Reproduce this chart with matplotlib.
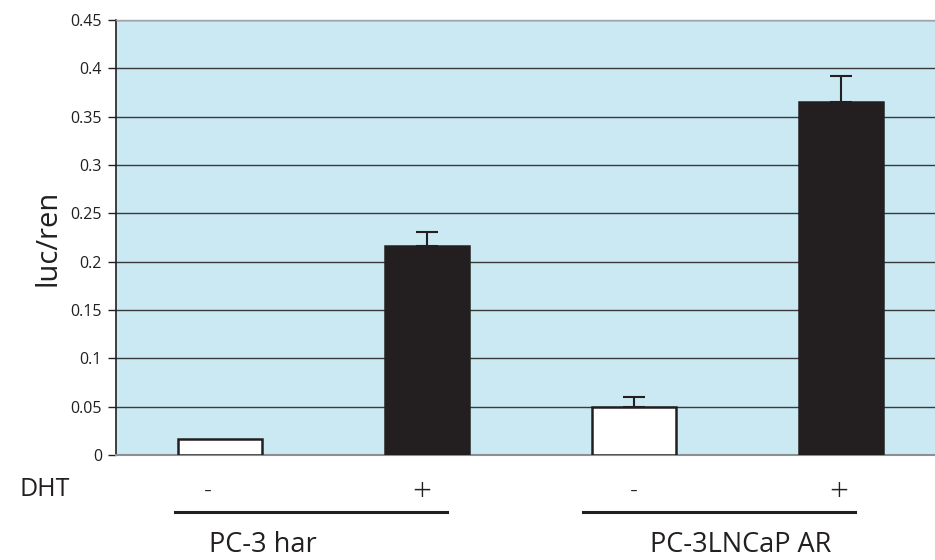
import matplotlib
matplotlib.use("Agg")
import matplotlib.pyplot as plt
import matplotlib.transforms as mtransforms

plt.rcParams['font.family'] = ['Open Sans', 'DejaVu Sans']

dht = ["-", "+", "-", "+"]
values = [0.017, 0.216, 0.050, 0.365]
errors = [0.0, 0.015, 0.010, 0.027]
bar_colors = ["white", "#231f20", "white", "#231f20"]
groups = ["PC-3 har", "PC-3LNCaP AR"]
yticks = [0, 0.05, 0.1, 0.15, 0.2, 0.25, 0.3, 0.35, 0.4, 0.45]
ytick_labels = ["0", "0.05", "0.1", "0.15", "0.2", "0.25", "0.3", "0.35", "0.4", "0.45"]

fig = plt.figure(figsize=(9.35, 5.6), dpi=100)
ax = fig.add_axes([116/935, 105/560, 1 - 116/935, 435/560])
ax.set_facecolor("#cae9f3")

x = list(range(len(values)))
ax.bar(x, values, width=0.406, color=bar_colors, edgecolor="#231f20", linewidth=1.8, zorder=3)
for xi, v, e in zip(x, values, errors):
    if e > 0:
        ax.errorbar(xi, v, yerr=[[0], [e]], fmt="none", ecolor="#231f20",
                    elinewidth=1.5, capsize=8, capthick=1.5, zorder=4)

ax.set_xlim(-0.502, 3.454)
ax.set_ylim(0, 0.45)
ax.set_yticks(yticks)
ax.set_yticklabels(ytick_labels, fontsize=11.5, color="#231f20")
ax.set_xticks([])
ax.yaxis.grid(True, color="#3a3a3a", linewidth=1.0, zorder=1)
ax.set_axisbelow(True)
ax.tick_params(axis="y", length=6, width=1, color="#231f20", pad=4)
ax.spines["left"].set_color("#231f20")
ax.spines["left"].set_linewidth(1.2)
ax.spines["bottom"].set_color("#8a9096")
ax.spines["bottom"].set_linewidth(1.5)
ax.spines["top"].set_color("#a0a4a8")
ax.spines["top"].set_linewidth(1.0)
ax.spines["right"].set_visible(False)

ax.set_ylabel("luc/ren", fontsize=21, labelpad=6, color="#231f20")

trans = mtransforms.blended_transform_factory(ax.transData, fig.transFigure)
fig.text(45/935, 1 - 489/560, "DHT", fontsize=18, ha="center", va="center", color="#231f20")
sign_pos = [-0.06, -0.025, 0.0, -0.01]
for xi, dx, s in zip(x, sign_pos, dht):
    ax.text(xi + dx, 1 - 492/560, s, transform=trans, fontsize=18 if s == "-" else 24,
            ha="center", va="center", color="#231f20", fontweight="light")

line_spans = [(-0.217, 1.097), (1.754, 3.068)]
label_pos = [0.208, 2.517]
for (a, b), lx, g in zip(line_spans, label_pos, groups):
    ax.plot([a, b], [1 - 512/560, 1 - 512/560], transform=trans, color="#231f20",
            linewidth=2.2, clip_on=False)
    ax.text(lx, 1 - 545/560, g, transform=trans, fontsize=19.5,
            ha="center", va="center", color="#231f20")

fig.savefig("out.png", dpi=100)
